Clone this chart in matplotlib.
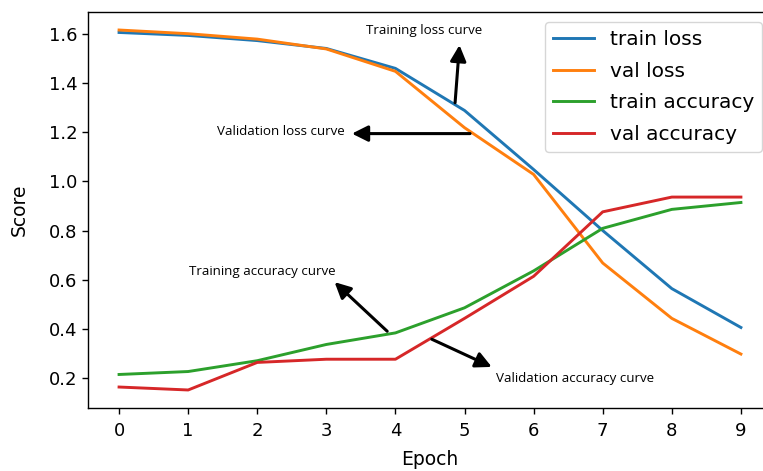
import matplotlib
matplotlib.use("Agg")
import matplotlib.pyplot as plt
import numpy as np

epochs = list(range(10))
train_loss = [1.605, 1.593, 1.572, 1.540, 1.459, 1.288, 1.048, 0.800, 0.564, 0.406]
val_loss = [1.615, 1.600, 1.578, 1.538, 1.447, 1.218, 1.028, 0.668, 0.443, 0.298]
train_acc = [0.215, 0.227, 0.271, 0.337, 0.384, 0.486, 0.636, 0.809, 0.886, 0.914]
val_acc = [0.164, 0.152, 0.264, 0.277, 0.277, 0.443, 0.614, 0.876, 0.936, 0.936]

series_labels = ["train loss", "val loss", "train accuracy", "val accuracy"]

fig = plt.figure(figsize=(7.63, 4.71), dpi=100)
ax = fig.add_axes([0.1153, 0.1338, 0.8965, 0.8407])

for vals, lab in zip([train_loss, val_loss, train_acc, val_acc], series_labels):
    ax.plot(epochs, vals, label=lab, lw=2.1)

ax.set_xticks(epochs)
ax.tick_params(labelsize=13, length=4.3, width=1.0)
ax.tick_params(axis="x", pad=6)
for s in ax.spines.values():
    s.set_linewidth(1.0)
ax.spines["right"].set_visible(False)
ax.set_xlabel("Epoch", fontsize=13.5, labelpad=7)
ax.set_ylabel("Score", fontsize=13.5, labelpad=14)
ax.legend(loc="upper right", fontsize=14.5, labelspacing=0.62)

afont = dict(fontsize=9.6, family=["Open Sans", "DejaVu Sans"], color="black")
aprops = dict(arrowstyle="-|>", color="black", lw=2.2, mutation_scale=24)

ax.text(4.41, 1.612, "Training loss curve", ha="center", va="center", **afont)
ax.annotate("", xy=(4.93, 1.565), xytext=(4.86, 1.308), arrowprops=aprops)

ax.text(3.26, 1.202, "Validation loss curve", ha="right", va="center", **afont)
ax.annotate("", xy=(3.33, 1.194), xytext=(5.12, 1.194), arrowprops=aprops)

ax.text(2.07, 0.634, "Training accuracy curve", ha="center", va="center", **afont)
ax.annotate("", xy=(3.09, 0.598), xytext=(3.91, 0.383), arrowprops=aprops)

ax.text(5.46, 0.200, "Validation accuracy curve", ha="left", va="center", **afont)
ax.annotate("", xy=(5.43, 0.241), xytext=(4.49, 0.363), arrowprops=aprops)

fig.savefig("out.png", dpi=100)
